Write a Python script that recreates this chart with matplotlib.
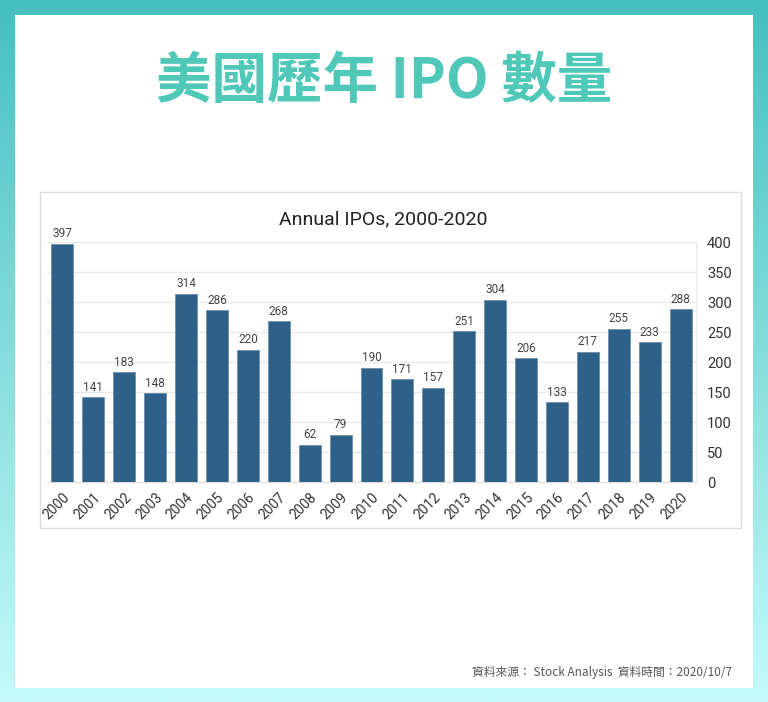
import numpy as np
import matplotlib
matplotlib.use("Agg")
import matplotlib.pyplot as plt
from matplotlib.patches import Rectangle

years = [str(y) for y in range(2000, 2021)]
ipos = [397, 141, 183, 148, 314, 286, 220, 268, 62, 79, 190,
        171, 157, 251, 304, 206, 133, 217, 255, 233, 288]
yticks = [0, 50, 100, 150, 200, 250, 300, 350, 400]

W, H = 768, 702
fig = plt.figure(figsize=(W / 100, H / 100), dpi=100)


def fx(px):
    return px / W


def fy(py):
    return 1 - py / H


# gradient background
bg = fig.add_axes([0, 0, 1, 1])
top = np.array([0x45, 0xc0, 0xbf]) / 255
bot = np.array([0xc4, 0xfa, 0xfa]) / 255
t = np.linspace(0, 1, 256)[:, None]
grad = top[None, :] * (1 - t) + bot[None, :] * t
bg.imshow(grad[:, None, :], aspect="auto", extent=[0, 1, 0, 1])
bg.set_axis_off()

# white card
fig.patches.append(Rectangle((fx(15), fy(688)), fx(738), 673 / H,
                             transform=fig.transFigure, facecolor="white",
                             edgecolor="none", zorder=1))
# chart frame
fig.patches.append(Rectangle((fx(40), fy(528)), fx(701), 336 / H,
                             transform=fig.transFigure, facecolor="white",
                             edgecolor="#dcdcdc", linewidth=1, zorder=2))

fig.text(0.5, fy(82), "美國歷年 IPO 數量", ha="center", va="center",
         fontsize=40, fontweight="bold", color="#50c8b8",
         family=["Noto Sans CJK TC", "DejaVu Sans"], zorder=5)

fig.text(fx(383), fy(219), "Annual IPOs, 2000-2020", ha="center", va="center",
         fontsize=14, color="#222222", family="Roboto", zorder=5)

ax = fig.add_axes([fx(47), fy(482), fx(649), 240 / H], zorder=4)
ax.patch.set_alpha(0)
x = np.arange(len(years))
bars = ax.bar(x, ipos, width=0.71, color="#2d6188", edgecolor="#6a90ae",
              linewidth=0.6, zorder=3)
for xi, v in zip(x, ipos):
    ax.text(xi, v + 6, str(v), ha="center", va="bottom", fontsize=8.5,
            color="#444444", family="Roboto")

ax.set_xlim(-0.5, len(years) - 0.5)
ax.set_ylim(0, 400)
ax.yaxis.tick_right()
ax.set_yticks(yticks)
ax.set_yticklabels([str(v) for v in yticks], family="Roboto", fontsize=10.5,
                   color="#333333")
ax.tick_params(axis="y", length=0, pad=8)
ax.set_xticks(x)
ax.set_xticklabels(years, rotation=45, ha="right", rotation_mode="anchor",
                   family="Roboto", fontsize=10, color="#333333")
ax.tick_params(axis="x", length=0, pad=6)
ax.grid(axis="y", color="#e8e8e8", linewidth=1, zorder=0)
for s in ["top", "left"]:
    ax.spines[s].set_visible(False)
ax.spines["right"].set_color("#e8e8e8")
ax.spines["bottom"].set_color("#dddddd")

fig.text(fx(732), fy(672), "資料來源： Stock Analysis  資料時間：2020/10/7",
         ha="right", va="center", fontsize=8.5, color="#555555",
         family=["Noto Sans CJK TC", "DejaVu Sans"], zorder=5)

fig.savefig("out.png", dpi=100)
